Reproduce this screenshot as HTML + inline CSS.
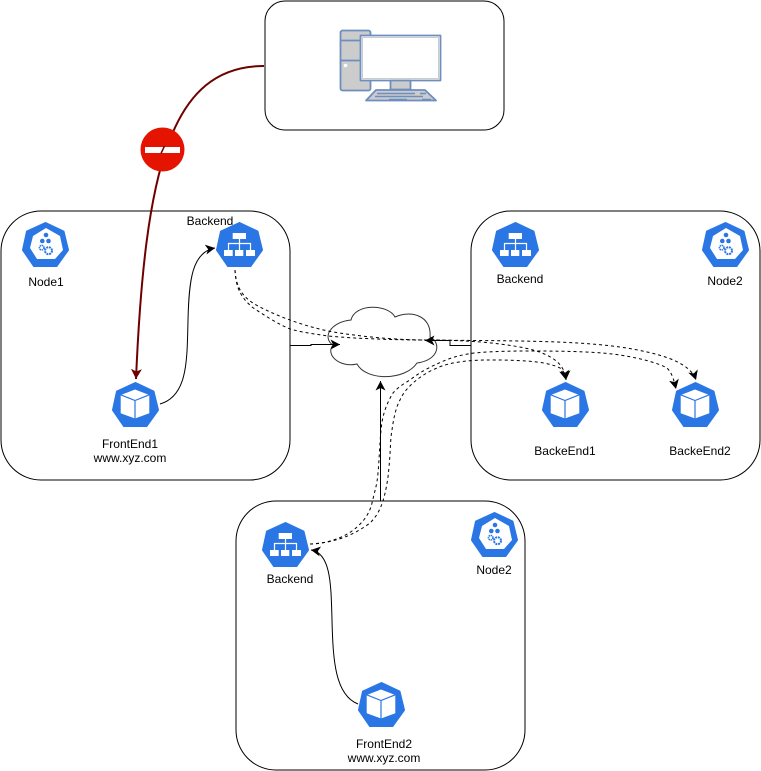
<!DOCTYPE html>
<html><head><meta charset="utf-8"><style>
html,body{margin:0;padding:0;background:#fff}
svg{display:block}
text{font-family:"Liberation Sans",sans-serif;font-size:12px;fill:#000;text-anchor:middle}
</style></head><body>
<svg width="761" height="771" viewBox="0 0 761 771" xmlns="http://www.w3.org/2000/svg">
<defs>
<marker id="a" markerWidth="12" markerHeight="12" refX="9.500" refY="5" orient="auto" markerUnits="userSpaceOnUse"><path d="M0 0L9.500 5L0 10L2.500 5Z" fill="#000"/></marker>
<marker id="r" markerWidth="13" markerHeight="13" refX="10" refY="5.500" orient="auto" markerUnits="userSpaceOnUse"><path d="M0 0L10 5.500L0 11L2.500 5.500Z" fill="#6f0000"/></marker>
<g id="hep"><path d="M23.500 1L41.500 9.500L46 28L34.500 44H12L1 28L5 9.500Z" fill="#2a76e4" stroke="#2a76e4" stroke-width="2" stroke-linejoin="round"/></g>
<g id="cube"><use href="#hep"/><path d="M23 7.500L37.300 13L37.300 31.300L23 36.500L8.700 31.300L8.700 13Z" fill="#fff"/><path d="M8.700 12.800L23 18.500L37.300 12.800M23 18.500V36.500" fill="none" stroke="#2a76e4" stroke-width="1.200"/></g>
<g id="net"><use href="#hep"/><path d="M16.700 11h13.300v6h-13.300zM8 28h8.700v6H8zM19 28h8.300v6H19zM30 28h9v6h-9z" fill="#fff"/><path d="M23.500 17v11M12.500 28v-6.500h22v6.500" fill="none" stroke="#fff" stroke-width="1.200"/></g>
<g id="node"><use href="#hep"/><path d="M24 6L38 14L41 28L33 37H15L8 26L11 14Z" fill="#fff"/><g fill="#2a76e4"><circle cx="24" cy="13" r="2.300"/><circle cx="20.300" cy="19" r="2.300"/><circle cx="26.500" cy="19" r="2.300"/></g><g fill="none" stroke="#2a76e4"><circle cx="19.700" cy="25.700" r="2.300" stroke-width="1.500" stroke-dasharray="1.500 .6"/><circle cx="26.500" cy="28.700" r="3.500" stroke-width="2" stroke-dasharray="2 .8"/></g></g>
</defs>

<rect x="1" y="211" width="289" height="269" rx="40" fill="#fff" stroke="#000"/>
<rect x="471" y="211" width="289" height="269" rx="40" fill="#fff" stroke="#000"/>
<rect x="236" y="501" width="289" height="269" rx="40" fill="#fff" stroke="#000"/>
<rect x="265" y="1" width="239" height="129" rx="20" fill="#fff" stroke="#000"/>

<!-- computer -->
<g stroke="#6d8ebf" stroke-width="1.800" stroke-linejoin="round">
<rect x="340.500" y="30.500" width="30" height="60" rx="2" fill="#ccc"/>
<path d="M341 40.500H370M341 60.500H370" fill="none"/>
<rect x="360.500" y="35.500" width="80" height="45" fill="#fff"/>
<rect x="390.500" y="80.500" width="20" height="9" fill="#ccc"/>
<path d="M376 90H425L436 100.500H366Z" fill="#ccc"/>
<path d="M377 93.500H415M420 93.500H426M375 96.500H423M389 99.500H407M422 99.500H431" fill="none" stroke-width="1.500"/>
</g>
<rect x="362.500" y="37.500" width="76" height="41" fill="none" stroke="#ccc"/>
<circle cx="345.500" cy="65.500" r="1.800" fill="#fff"/>

<!-- cloud -->
<path d="M351 320C355 303 388 304 395 317C410 310 432 315 430 337C441 342 440 360 417 363C405 381 366 381 357 364C340 368 325 355 333 345C322 338 330 322 351 320Z" fill="#fff" stroke="#333" stroke-width="1"/>

<!-- solid connectors -->
<g fill="none" stroke="#000" stroke-width="1">
<path d="M160 404C188 396 187 360 188 320C189 280 192 252 215 248" marker-end="url(#a)"/>
<path d="M290 345.500H311V344.500H340" marker-end="url(#a)"/>
<path d="M471 345.500H450V340.500H425" marker-end="url(#a)"/>
<path d="M380.500 501V381" marker-end="url(#a)"/>
<path d="M358 704C335 695 333 660 332 620C331 585 331 553 311 550" marker-end="url(#a)"/>
</g>
<!-- dashed connectors -->
<g fill="none" stroke="#000" stroke-width="1" stroke-dasharray="3 3">
<path d="M235 270C236 290 245 299 258 306C275 315 300 325 328 331C360 337 400 340 426 340C460 340 495 342 525 348C548 353 565 362 566 380" marker-end="url(#a)"/>
<path d="M235 270C236 290 242 298 252 307C265 316 280 325 290 329C305 333 315 334 328 336C360 339 400 340 426 340C500 341 570 340 620 347C660 353 690 362 696 380" marker-end="url(#a)"/>
<path d="M310 544C330 543 350 538 370 523C378 515 384 505 388 477C391 450 390 440 392 430C394 415 397 405 400 400C405 388 420 375 437 368C450 362 470 360 487 360C510 360 545 360 560 368C564 371 565 375 566 380" marker-end="url(#a)"/>
<path d="M310 544C325 544 345 538 357 527C365 520 370 512 372 503C375 490 377 485 378 473C380 450 380 430 383 417C386 405 390 398 393 393C398 387 405 383 410 380C420 372 430 367 437 364C455 355 470 353 487 352C505 351 520 351 533 351C570 351 600 352 620 355C645 359 660 364 667 368C672 373 674 380 676 389" marker-end="url(#a)"/>
</g>

<!-- red connector -->
<path d="M264 66C170 66 145 170 136 379" fill="none" stroke="#6f0000" stroke-width="2" marker-end="url(#r)"/>
<circle cx="162.500" cy="149.500" r="22" fill="#e51400"/>
<rect x="145" y="147" width="35" height="6" fill="#fff"/>
<path d="M164.500 146L161 153.500" stroke="#6f0000" stroke-width="1.500"/>

<!-- icons -->
<use href="#node" x="22" y="222"/>
<use href="#net" x="216" y="222"/>
<use href="#cube" x="112" y="382"/>
<use href="#net" x="492" y="222"/>
<use href="#node" x="702" y="222"/>
<use href="#cube" x="542" y="382"/>
<use href="#cube" x="672" y="382"/>
<use href="#net" x="262" y="522"/>
<use href="#node" x="471" y="512"/>
<use href="#cube" x="358" y="682"/>

<!-- labels -->
<text x="46" y="286">Node1</text>
<text x="210" y="225">Backend</text>
<text x="130" y="448">FrontEnd1</text>
<text x="130" y="462">www.xyz.com</text>
<text x="520" y="283">Backend</text>
<text x="725" y="285">Node2</text>
<text x="565" y="455">BackeEnd1</text>
<text x="700" y="455">BackeEnd2</text>
<text x="290" y="583">Backend</text>
<text x="494" y="574">Node2</text>
<text x="384" y="748">FrontEnd2</text>
<text x="384" y="762">www.xyz.com</text>
</svg>
</body></html>
